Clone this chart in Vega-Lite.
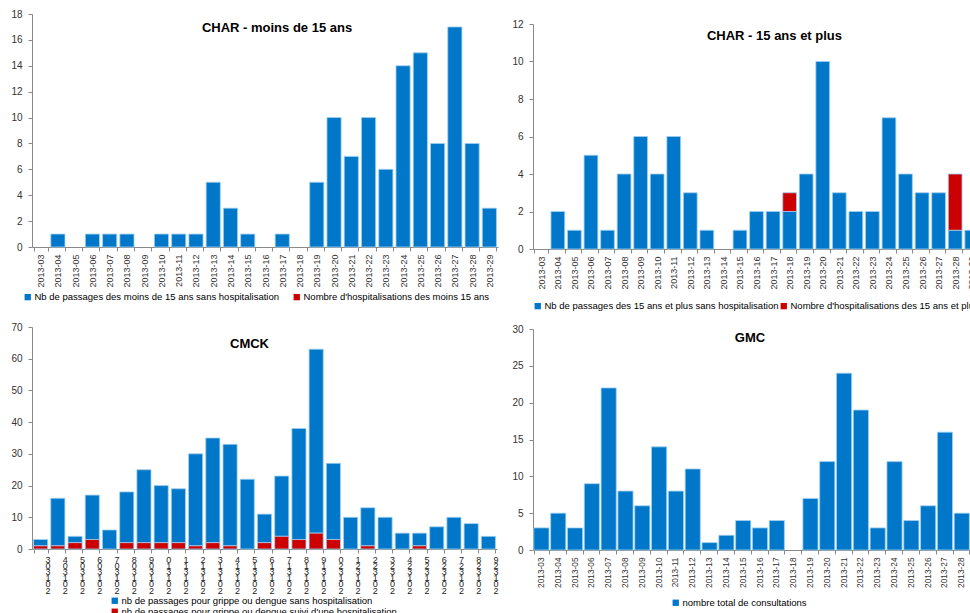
{
  "$schema": "https://vega.github.io/schema/vega-lite/v6.json",
  "padding": {"left": 10, "top": 9, "right": 0, "bottom": 0},
  "background": "white",
  "config": {
    "view": {"stroke": null},
    "font": "Liberation Sans",
    "axis": {"grid": false, "domainColor": "#898989", "tickColor": "#898989", "tickSize": 4, "labelColor": "#333333", "labelFont": "Liberation Sans", "labelOverlap": false, "title": null},
    "axisY": {"labelFontSize": 10, "labelPadding": 6},
    "axisX": {"labelFontSize": 9, "labelPadding": 3, "labelAngle": 270, "tickBand": "extent"},
    "legend": {"labelFontSize": 9.5, "labelColor": "#000000", "labelFont": "Liberation Sans", "symbolType": "square", "symbolSize": 40, "symbolStrokeWidth": 0, "labelLimit": 600, "labelOffset": 2, "padding": 0, "title": null, "rowPadding": 0, "orient": "none"},
    "title": {"fontSize": 13, "fontWeight": "bold", "color": "#000000", "font": "Liberation Sans", "anchor": "middle"}
  },
  "datasets": {
    "noms_tl": [{"k": "a", "nom": "Nb de passages des moins de 15 ans sans hospitalisation"}, {"k": "b", "nom": "Nombre d'hospitalisations des moins 15 ans"}],
    "noms_tr": [{"k": "a", "nom": "Nb de passages des 15 ans et plus sans hospitalisation"}, {"k": "b", "nom": "Nombre d'hospitalisations des 15 ans et plus"}],
    "noms_bl": [{"k": "a", "nom": "nb de passages pour grippe ou dengue sans hospitalisation"}, {"k": "b", "nom": "nb de passages pour grippe ou dengue suivi d'une hospitalisation"}],
    "noms_br": [{"k": "a", "nom": "nombre total de consultations"}],
    "tl": [
      {"s": "2013-03", "a": 0, "b": 0}, {"s": "2013-04", "a": 1, "b": 0}, {"s": "2013-05", "a": 0, "b": 0}, {"s": "2013-06", "a": 1, "b": 0},
      {"s": "2013-07", "a": 1, "b": 0}, {"s": "2013-08", "a": 1, "b": 0}, {"s": "2013-09", "a": 0, "b": 0}, {"s": "2013-10", "a": 1, "b": 0},
      {"s": "2013-11", "a": 1, "b": 0}, {"s": "2013-12", "a": 1, "b": 0}, {"s": "2013-13", "a": 5, "b": 0}, {"s": "2013-14", "a": 3, "b": 0},
      {"s": "2013-15", "a": 1, "b": 0}, {"s": "2013-16", "a": 0, "b": 0}, {"s": "2013-17", "a": 1, "b": 0}, {"s": "2013-18", "a": 0, "b": 0},
      {"s": "2013-19", "a": 5, "b": 0}, {"s": "2013-20", "a": 10, "b": 0}, {"s": "2013-21", "a": 7, "b": 0}, {"s": "2013-22", "a": 10, "b": 0},
      {"s": "2013-23", "a": 6, "b": 0}, {"s": "2013-24", "a": 14, "b": 0}, {"s": "2013-25", "a": 15, "b": 0}, {"s": "2013-26", "a": 8, "b": 0},
      {"s": "2013-27", "a": 17, "b": 0}, {"s": "2013-28", "a": 8, "b": 0}, {"s": "2013-29", "a": 3, "b": 0}
    ],
    "tr": [
      {"s": "2013-03", "a": 0, "b": 0}, {"s": "2013-04", "a": 2, "b": 0}, {"s": "2013-05", "a": 1, "b": 0}, {"s": "2013-06", "a": 5, "b": 0},
      {"s": "2013-07", "a": 1, "b": 0}, {"s": "2013-08", "a": 4, "b": 0}, {"s": "2013-09", "a": 6, "b": 0}, {"s": "2013-10", "a": 4, "b": 0},
      {"s": "2013-11", "a": 6, "b": 0}, {"s": "2013-12", "a": 3, "b": 0}, {"s": "2013-13", "a": 1, "b": 0}, {"s": "2013-14", "a": 0, "b": 0},
      {"s": "2013-15", "a": 1, "b": 0}, {"s": "2013-16", "a": 2, "b": 0}, {"s": "2013-17", "a": 2, "b": 0}, {"s": "2013-18", "a": 2, "b": 1},
      {"s": "2013-19", "a": 4, "b": 0}, {"s": "2013-20", "a": 10, "b": 0}, {"s": "2013-21", "a": 3, "b": 0}, {"s": "2013-22", "a": 2, "b": 0},
      {"s": "2013-23", "a": 2, "b": 0}, {"s": "2013-24", "a": 7, "b": 0}, {"s": "2013-25", "a": 4, "b": 0}, {"s": "2013-26", "a": 3, "b": 0},
      {"s": "2013-27", "a": 3, "b": 0}, {"s": "2013-28", "a": 1, "b": 3}, {"s": "2013-29", "a": 1, "b": 0}
    ],
    "bl": [
      {"s": "2013-03", "a": 2, "b": 1}, {"s": "2013-04", "a": 15, "b": 1}, {"s": "2013-05", "a": 2, "b": 2}, {"s": "2013-06", "a": 14, "b": 3},
      {"s": "2013-07", "a": 6, "b": 0}, {"s": "2013-08", "a": 16, "b": 2}, {"s": "2013-09", "a": 23, "b": 2}, {"s": "2013-10", "a": 18, "b": 2},
      {"s": "2013-11", "a": 17, "b": 2}, {"s": "2013-12", "a": 29, "b": 1}, {"s": "2013-13", "a": 33, "b": 2}, {"s": "2013-14", "a": 32, "b": 1},
      {"s": "2013-15", "a": 22, "b": 0}, {"s": "2013-16", "a": 9, "b": 2}, {"s": "2013-17", "a": 19, "b": 4}, {"s": "2013-18", "a": 35, "b": 3},
      {"s": "2013-19", "a": 58, "b": 5}, {"s": "2013-20", "a": 24, "b": 3}, {"s": "2013-21", "a": 10, "b": 0}, {"s": "2013-22", "a": 12, "b": 1},
      {"s": "2013-23", "a": 10, "b": 0}, {"s": "2013-24", "a": 5, "b": 0}, {"s": "2013-25", "a": 4, "b": 1}, {"s": "2013-26", "a": 7, "b": 0},
      {"s": "2013-27", "a": 10, "b": 0}, {"s": "2013-28", "a": 8, "b": 0}, {"s": "2013-29", "a": 4, "b": 0}
    ],
    "br": [
      {"s": "2013-03", "a": 3}, {"s": "2013-04", "a": 5}, {"s": "2013-05", "a": 3}, {"s": "2013-06", "a": 9},
      {"s": "2013-07", "a": 22}, {"s": "2013-08", "a": 8}, {"s": "2013-09", "a": 6}, {"s": "2013-10", "a": 14},
      {"s": "2013-11", "a": 8}, {"s": "2013-12", "a": 11}, {"s": "2013-13", "a": 1}, {"s": "2013-14", "a": 2},
      {"s": "2013-15", "a": 4}, {"s": "2013-16", "a": 3}, {"s": "2013-17", "a": 4}, {"s": "2013-18", "a": 0},
      {"s": "2013-19", "a": 7}, {"s": "2013-20", "a": 12}, {"s": "2013-21", "a": 24}, {"s": "2013-22", "a": 19},
      {"s": "2013-23", "a": 3}, {"s": "2013-24", "a": 12}, {"s": "2013-25", "a": 4}, {"s": "2013-26", "a": 6},
      {"s": "2013-27", "a": 16}, {"s": "2013-28", "a": 5}, {"s": "2013-29", "a": 2}
    ]
  },
  "spacing": 13,
  "resolve": {"scale": {"color": "independent"}, "legend": {"color": "independent"}},
  "hconcat": [
    {
      "spacing": 20,
      "resolve": {"scale": {"color": "independent"}, "legend": {"color": "independent"}},
      "vconcat": [
        {
          "width": 466, "height": 233,
          "data": {"name": "tl"},
          "transform": [
            {"fold": ["a", "b"], "as": ["k", "n"]},
            {"filter": "datum.n > 0"},
            {"lookup": "k", "from": {"data": {"name": "noms_tl"}, "key": "k", "fields": ["nom"]}}
          ],
          "title": {"text": "CHAR - moins de 15 ans", "offset": -26, "dx": 12},
          "mark": {"type": "bar", "stroke": "#9fd0f2", "strokeWidth": 0.8},
          "encoding": {
            "x": {"field": "s", "type": "ordinal",
              "scale": {"domain": ["2013-03","2013-04","2013-05","2013-06","2013-07","2013-08","2013-09","2013-10","2013-11","2013-12","2013-13","2013-14","2013-15","2013-16","2013-17","2013-18","2013-19","2013-20","2013-21","2013-22","2013-23","2013-24","2013-25","2013-26","2013-27","2013-28","2013-29"], "paddingInner": 0.18, "paddingOuter": 0.09}},
            "y": {"field": "n", "type": "quantitative", "stack": "zero", "scale": {"domain": [0, 18], "nice": false}, "axis": {"values": [0, 2, 4, 6, 8, 10, 12, 14, 16, 18]}},
            "color": {"field": "nom", "type": "nominal",
              "scale": {"domain": ["Nb de passages des moins de 15 ans sans hospitalisation", "Nombre d'hospitalisations des moins 15 ans"], "range": ["#0077c8", "#cc0000"]},
              "legend": {"orient": "none", "legendX": -9, "legendY": 278, "direction": "horizontal", "columnPadding": 12}},
            "order": {"field": "k", "sort": "ascending"}
          }
        },
        {
          "width": 465, "height": 222,
          "data": {"name": "bl"},
          "transform": [
            {"fold": ["a", "b"], "as": ["k", "n"]},
            {"filter": "datum.n > 0"},
            {"lookup": "k", "from": {"data": {"name": "noms_bl"}, "key": "k", "fields": ["nom"]}}
          ],
          "title": {"text": "CMCK", "offset": -29, "dx": -15},
          "mark": {"type": "bar", "stroke": "#9fd0f2", "strokeWidth": 0.8},
          "encoding": {
            "x": {"field": "s", "type": "ordinal",
              "scale": {"domain": ["2013-03","2013-04","2013-05","2013-06","2013-07","2013-08","2013-09","2013-10","2013-11","2013-12","2013-13","2013-14","2013-15","2013-16","2013-17","2013-18","2013-19","2013-20","2013-21","2013-22","2013-23","2013-24","2013-25","2013-26","2013-27","2013-28","2013-29"], "paddingInner": 0.18, "paddingOuter": 0.09},
              "axis": {"labelAngle": 0, "labelAlign": "center", "labelBaseline": "top", "labelOffset": 7, "labelFontSize": 9, "labelLineHeight": 6.2, "labelPadding": 2, "labelColor": "#222222",
                "labelExpr": "[slice(datum.label,6,7), slice(datum.label,5,6), slice(datum.label,3,4), slice(datum.label,2,3), slice(datum.label,1,2), slice(datum.label,0,1)]"}},
            "y": {"field": "n", "type": "quantitative", "stack": "zero", "scale": {"domain": [0, 70], "nice": false}, "axis": {"values": [0, 10, 20, 30, 40, 50, 60, 70]}},
            "color": {"field": "nom", "type": "nominal",
              "scale": {"domain": ["nb de passages pour grippe ou dengue sans hospitalisation", "nb de passages pour grippe ou dengue suivi d'une hospitalisation"], "range": ["#0077c8", "#cc0000"]},
              "legend": {"orient": "none", "legendX": 78, "legendY": 269, "direction": "vertical"}},
            "order": {"field": "k", "sort": "descending"}
          }
        }
      ]
    },
    {
      "spacing": 13,
      "resolve": {"scale": {"color": "independent"}, "legend": {"color": "independent"}},
      "vconcat": [
        {
          "width": 447, "height": 235,
          "data": {"name": "tr"},
          "transform": [
            {"fold": ["a", "b"], "as": ["k", "n"]},
            {"filter": "datum.n > 0"},
            {"lookup": "k", "from": {"data": {"name": "noms_tr"}, "key": "k", "fields": ["nom"]}}
          ],
          "title": {"text": "CHAR - 15 ans et plus", "offset": -29, "dx": 18},
          "mark": {"type": "bar", "stroke": "#9fd0f2", "strokeWidth": 0.8},
          "encoding": {
            "x": {"field": "s", "type": "ordinal",
              "scale": {"domain": ["2013-03","2013-04","2013-05","2013-06","2013-07","2013-08","2013-09","2013-10","2013-11","2013-12","2013-13","2013-14","2013-15","2013-16","2013-17","2013-18","2013-19","2013-20","2013-21","2013-22","2013-23","2013-24","2013-25","2013-26","2013-27","2013-28","2013-29"], "paddingInner": 0.17, "paddingOuter": 0.085}},
            "y": {"field": "n", "type": "quantitative", "stack": "zero", "scale": {"domain": [0, 12], "nice": false, "range": [235, 10]},
              "axis": {"values": [0, 2, 4, 6, 8, 10, 12]}},
            "color": {"field": "nom", "type": "nominal",
              "scale": {"domain": ["Nb de passages des 15 ans et plus sans hospitalisation", "Nombre d'hospitalisations des 15 ans et plus"], "range": ["#0077c8", "#cc0000"]},
              "legend": {"orient": "none", "legendX": 0, "legendY": 287, "direction": "horizontal", "columnPadding": 0}},
            "order": {"field": "k", "sort": "ascending"}
          }
        },
        {
          "width": 454, "height": 221,
          "data": {"name": "br"},
          "transform": [
            {"fold": ["a"], "as": ["k", "n"]},
            {"filter": "datum.n > 0"},
            {"lookup": "k", "from": {"data": {"name": "noms_br"}, "key": "k", "fields": ["nom"]}}
          ],
          "title": {"text": "GMC", "offset": -21, "dx": -10},
          "mark": {"type": "bar", "stroke": "#9fd0f2", "strokeWidth": 0.8},
          "encoding": {
            "x": {"field": "s", "type": "ordinal",
              "scale": {"domain": ["2013-03","2013-04","2013-05","2013-06","2013-07","2013-08","2013-09","2013-10","2013-11","2013-12","2013-13","2013-14","2013-15","2013-16","2013-17","2013-18","2013-19","2013-20","2013-21","2013-22","2013-23","2013-24","2013-25","2013-26","2013-27","2013-28","2013-29"], "paddingInner": 0.1, "paddingOuter": 0.05},
              "axis": {"labelFontSize": 8.3}},
            "y": {"field": "n", "type": "quantitative", "stack": "zero", "scale": {"domain": [0, 30], "nice": false}, "axis": {"values": [0, 5, 10, 15, 20, 25, 30]}},
            "color": {"field": "nom", "type": "nominal",
              "scale": {"domain": ["nombre total de consultations"], "range": ["#0077c8"]},
              "legend": {"orient": "none", "legendX": 138, "legendY": 269, "direction": "vertical"}}
          }
        }
      ]
    }
  ]
}
